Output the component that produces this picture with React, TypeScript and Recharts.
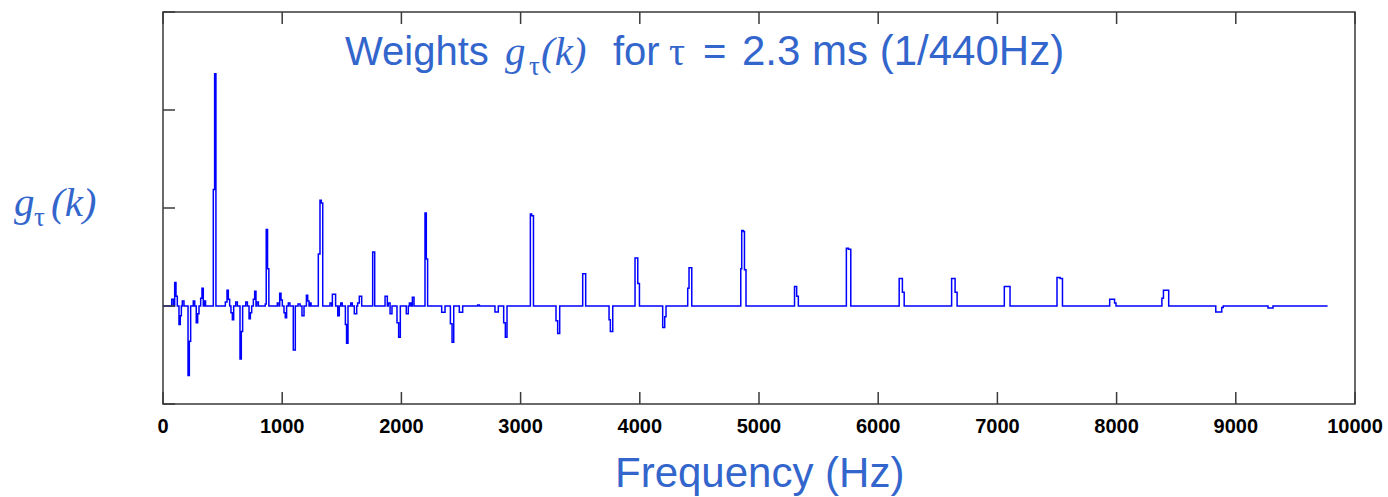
import React from 'react';
import { LineChart, Line, XAxis, YAxis, ReferenceArea } from 'recharts';

// [start Hz, end Hz, weight] step segments
const lowBand: [number, number, number][] = [
  [73, 87, 0.07], [98, 109, 0.24], [109, 120, 0.1], [134, 145, -0.19], [145, 154, -0.1],
  [162, 176, 0.05], [210, 221, -0.71], [221, 232, -0.36], [254, 266, 0.05], [279, 291, -0.17],
  [291, 302, -0.08], [316, 327, 0.08], [327, 338, 0.18], [346, 357, 0.05], [422, 433, 1.19],
  [433, 444, 2.37], [523, 537, 0.04], [537, 548, 0.16], [548, 559, 0.07], [570, 582, -0.07],
  [582, 593, -0.14], [610, 624, 0.04], [646, 657, -0.54], [657, 668, -0.26], [694, 708, 0.04],
  [722, 733, -0.13], [733, 744, -0.07], [758, 769, 0.07], [769, 780, 0.15], [786, 800, 0.04],
  [858, 866, 0.02], [866, 877, 0.78], [877, 888, 0.38], [959, 973, 0.03], [979, 990, 0.13],
  [990, 1001, 0.06],
];

const midBand: [number, number, number][] = [
  [1015, 1026, -0.07], [1026, 1037, -0.12], [1051, 1065, 0.03], [1093, 1110, -0.45],
  [1133, 1150, 0.02], [1166, 1183, -0.1], [1203, 1214, 0.11], [1214, 1225, 0.05],
  [1232, 1242, 0.03], [1303, 1317, 0.53], [1317, 1328, 1.08], [1328, 1340, 1.05],
  [1401, 1415, 0.03], [1421, 1448, 0.12], [1466, 1479, -0.1], [1491, 1504, 0.03],
  [1530, 1540, -0.19], [1540, 1552, -0.38], [1575, 1588, 0.03], [1605, 1625, -0.08],
  [1633, 1647, 0.03], [1647, 1667, 0.1], [1759, 1776, 0.55], [1863, 1882, 0.1],
  [1890, 1905, 0.03], [1905, 1921, -0.08], [1963, 1977, -0.17], [1977, 1991, -0.32],
  [2041, 2058, -0.08], [2067, 2080, 0.03], [2092, 2106, 0.09], [2198, 2209, 0.95],
  [2209, 2220, 0.48], [2338, 2366, -0.065], [2411, 2425, -0.18], [2425, 2439, -0.37],
  [2486, 2514, -0.065], [2640, 2654, 0.01], [2785, 2813, -0.06], [2858, 2872, -0.17],
  [2872, 2886, -0.32],
];

const highBand: [number, number, number][] = [
  [3082, 3093, 0.94], [3093, 3108, 0.92], [3297, 3311, -0.15], [3311, 3328, -0.28],
  [3521, 3546, 0.33], [3742, 3753, -0.14], [3753, 3773, -0.26], [3960, 3983, 0.49],
  [3983, 3997, 0.23], [4192, 4209, -0.22], [4209, 4220, -0.11], [4402, 4413, 0.18],
  [4413, 4436, 0.39], [4847, 4855, 0.38], [4855, 4869, 0.77], [4869, 4878, 0.76],
  [4878, 4891, 0.37], [5298, 5316, 0.2], [5316, 5330, 0.1], [5733, 5750, 0.59],
  [5750, 5770, 0.58], [6176, 6203, 0.28], [6203, 6218, 0.14], [6616, 6645, 0.28],
  [6645, 6662, 0.14], [7058, 7106, 0.2], [7500, 7526, 0.29], [7526, 7546, 0.28],
  [7942, 7983, 0.07], [7983, 7995, 0.03], [8380, 8393, 0.08], [8393, 8437, 0.16],
  [8832, 8882, -0.06], [8882, 8895, -0.015], [9270, 9312, -0.02],
];

const lineEnd = 9770;
const xTicks = [0, 1000, 2000, 3000, 4000, 5000, 6000, 7000, 8000, 9000, 10000];
const yTicks = [-1, 0, 1, 2, 3];

const BLUE = '#3366cc';
const FRAME = '#3a3a3a';

function buildSteps() {
  const segs = [...lowBand, ...midBand, ...highBand];
  const pts: { f: number; v: number }[] = [];
  let cursor = 0;
  let lastV: number | null = null;
  const push = (f: number, v: number) => {
    if (lastV !== v) {
      pts.push({ f, v });
      lastV = v;
    }
  };
  for (const [s, e, v] of segs) {
    if (s > cursor) push(cursor, 0);
    push(s, v);
    cursor = e;
  }
  push(cursor, 0);
  pts.push({ f: lineEnd, v: 0 });
  return pts;
}

const data = buildSteps();

const sans = "'Liberation Sans', Arial, sans-serif";
const serif = "'Liberation Serif', 'Times New Roman', serif";

const BottomTick = (props: any) => {
  const { x, y, payload } = props;
  return (
    <g>
      <line x1={x} x2={x} y1={y} y2={y - 12} stroke={FRAME} strokeWidth={1.5} />
      <text x={x} y={y + 29} textAnchor="middle" fontSize={20} fontWeight="bold" fontFamily={sans} fill="#000">
        {payload.value}
      </text>
    </g>
  );
};
const TopTick = (props: any) => {
  const { x, y } = props;
  return <line x1={x} x2={x} y1={y} y2={y + 12} stroke={FRAME} strokeWidth={1.5} />;
};
const LeftTick = (props: any) => {
  const { x, y } = props;
  return <line x1={x} x2={x + 12} y1={y} y2={y} stroke={FRAME} strokeWidth={1.5} />;
};
const RightTick = (props: any) => {
  const { x, y } = props;
  return <line x1={x} x2={x - 12} y1={y} y2={y} stroke={FRAME} strokeWidth={1.5} />;
};

export default function App() {
  return (
    <div style={{ position: 'absolute', left: 0, top: 0, width: 1388, height: 497, background: '#fff' }}>
      <LineChart width={1388} height={497} data={data} margin={{ top: 2, right: 23, bottom: 33, left: 153 }}>
        <XAxis
          dataKey="f"
          type="number"
          domain={[0, 10000]}
          ticks={xTicks}
          height={60}
          tickSize={0}
          tickMargin={0}
          axisLine={false}
          tickLine={false}
          tick={<BottomTick />}
          interval={0}
        />
        <XAxis
          xAxisId="top"
          orientation="top"
          dataKey="f"
          type="number"
          domain={[0, 10000]}
          ticks={xTicks}
          height={10}
          tickSize={0}
          tickMargin={0}
          axisLine={false}
          tickLine={false}
          tick={<TopTick />}
          interval={0}
        />
        <YAxis
          type="number"
          domain={[-1, 3]}
          ticks={yTicks}
          width={10}
          tickSize={0}
          tickMargin={0}
          axisLine={false}
          tickLine={false}
          tick={<LeftTick />}
          interval={0}
        />
        <YAxis
          yAxisId="right"
          orientation="right"
          type="number"
          domain={[-1, 3]}
          ticks={yTicks}
          width={10}
          tickSize={0}
          tickMargin={0}
          axisLine={false}
          tickLine={false}
          tick={<RightTick />}
          interval={0}
        />
        <ReferenceArea x1={0} x2={10000} y1={-1} y2={3} fill="none" fillOpacity={0} stroke={FRAME} strokeWidth={1.5} />
        <Line
          type="stepAfter"
          dataKey="v"
          stroke="#0000ff"
          strokeWidth={1.5}
          dot={false}
          activeDot={false}
          isAnimationActive={false}
        />
      </LineChart>
      <svg width={1388} height={497} style={{ position: 'absolute', left: 0, top: 0, pointerEvents: 'none' }}>
        <g fill={BLUE}>
          <text x={345} y={65} fontFamily={sans} fontSize={40}>Weights</text>
          <text x={505} y={65} fontFamily={serif} fontStyle="italic" fontSize={41}>g</text>
          <text x={529} y={75} fontFamily={serif} fontSize={27}>τ</text>
          <text x={541} y={65} fontFamily={serif} fontStyle="italic" fontSize={41}>(k)</text>
          <text x={613} y={65} fontFamily={sans} fontSize={40}>for</text>
          <text x={669} y={65} fontFamily={serif} fontSize={40}>τ</text>
          <text x={703} y={65} fontFamily={sans} fontSize={40}>=</text>
          <text x={742} y={65} fontFamily={sans} fontSize={42}>2.3 ms (1/440Hz)</text>

          <text x={14} y={216} fontFamily={serif} fontStyle="italic" fontSize={41}>g</text>
          <text x={34} y={226} fontFamily={serif} fontSize={27}>τ</text>
          <text x={51} y={216} fontFamily={serif} fontStyle="italic" fontSize={41}>(k)</text>

          <text x={615} y={487} fontFamily={sans} fontSize={42}>Frequency (Hz)</text>
        </g>
      </svg>
    </div>
  );
}
